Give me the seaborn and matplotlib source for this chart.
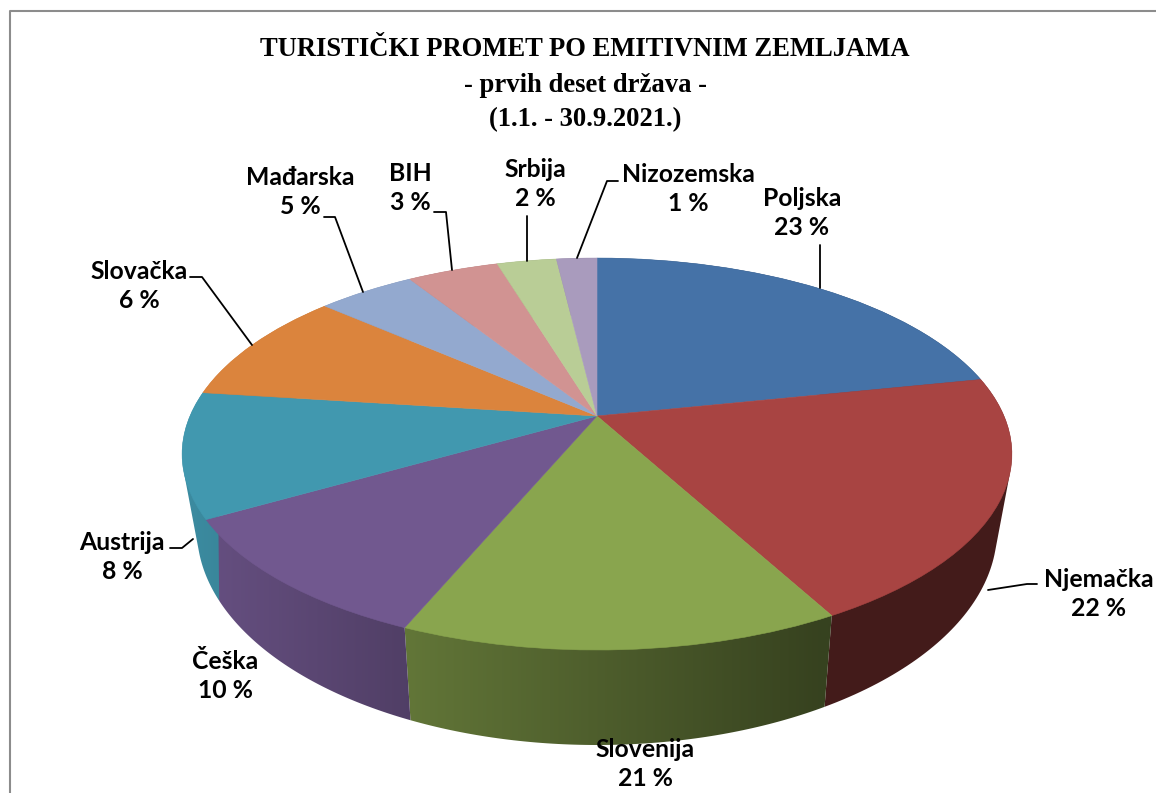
#!/usr/bin/env python3
import numpy as np
import matplotlib
matplotlib.use('Agg')
import matplotlib.pyplot as plt
import seaborn as sns
from matplotlib.patches import Polygon
from matplotlib.transforms import Transform

sns.set_theme(style="white")
plt.rcParams['font.family'] = ['Lato', 'DejaVu Sans']

# podaci procitani sa slike
zemlje = ['Poljska', 'Njemačka', 'Slovenija', 'Češka', 'Austrija',
          'Slovačka', 'Mađarska', 'BIH', 'Srbija', 'Nizozemska']
postotci = [23, 22, 21, 10, 8, 6, 5, 3, 2, 1]
# udjeli kako su stvarno nacrtani (ne poklapaju se s natpisima)
udjeli = [21.8, 20.3, 14.3, 10.4, 10.3, 9.4, 4.6, 4.3, 2.8, 1.9]
boje = ['#4572A7', '#A84442', '#89A54E', '#71588F', '#4198AF',
        '#DB843D', '#93A9CF', '#D19392', '#B9CD96', '#A99BBD']
naslov = ['TURISTIČKI PROMET PO EMITIVNIM ZEMLJAMA', '- prvih deset država -', '(1.1. - 30.9.2021.)']

# polozaj natpisa u pikselima
natpisi_xy = [(802, 213), (1099, 594), (645, 764), (225, 676), (122, 557),
              (139, 286), (300, 192), (410, 188), (535, 184), (688, 189)]
vodilice = [
    [(820, 245), (820, 288)],
    [(1037, 584), (1027, 584), (988, 590)],
    [],
    [],
    [(170, 548), (182, 548), (193, 539)],
    [(190, 277), (202, 277), (252, 345)],
    [(324, 217), (335, 217), (363, 292)],
    [(434, 212), (446, 212), (452, 270)],
    [(527, 216), (527, 261)],
    [(618, 181), (607, 181), (577, 258)],
]


class Perspektiva(Transform):
    # jedinicni krug -> pikseli, s perspektivom
    input_dims = 2
    output_dims = 2
    is_separable = False
    has_inverse = False

    def __init__(self, cy, rx, ry, k, cx=597):
        super().__init__()
        self.cy, self.rx, self.ry, self.k, self.cx = cy, rx, ry, k, cx

    def transform_non_affine(self, xy):
        xy = np.asarray(xy, dtype=float)
        w = 1 + self.k * xy[:, 1]
        return np.column_stack([self.cx + self.rx * xy[:, 0] / w,
                                self.cy - self.ry * xy[:, 1] / w])


def ljuska(tocke):
    # konveksna ljuska, da zid na bokovima nema udubljenje
    tocke = sorted(map(tuple, tocke))

    def pola(niz):
        out = []
        for p in niz:
            while len(out) > 1 and ((out[-1][0] - out[-2][0]) * (p[1] - out[-2][1])
                                    - (out[-1][1] - out[-2][1]) * (p[0] - out[-2][0])) <= 0:
                out.pop()
            out.append(p)
        return out[:-1]

    return np.array(pola(tocke) + pola(tocke[::-1]))


gornja = Perspektiva(416, 407, 188.6, 0.194)
donja = Perspektiva(487, 392, 206.4, 0.2)

paleta = sns.color_palette(boje)

fig = plt.figure(figsize=(11.56, 7.93), dpi=100, facecolor='white')
ax = fig.add_axes([0, 0, 1, 1])

# gornja ploha
wedges, _ = ax.pie(udjeli, colors=paleta, startangle=90, counterclock=False,
                   wedgeprops={'linewidth': 0.4, 'zorder': 3})
for w, c in zip(wedges, paleta):
    w.set_edgecolor(c)
    w.set_transform(gornja + ax.transData)

# bocni zid: gradijent po x, odrezan na oblik zida
granice = np.cumsum([0] + udjeli) / np.sum(udjeli) * 2 * np.pi
stupci = np.arange(175, 1025)
sjena = np.interp(stupci, [183, 400, 820, 1012], [0.92, 0.72, 0.40, 0.40])
for i in range(len(udjeli)):
    t = np.linspace(granice[i], granice[i + 1], 80)
    krug = np.column_stack([np.sin(t), np.cos(t)])
    rub = ljuska(np.vstack([gornja.transform_non_affine(krug), donja.transform_non_affine(krug)]))
    oblik = Polygon(rub, closed=True, transform=ax.transData, facecolor='none', edgecolor='none')
    ax.add_patch(oblik)
    slika = np.outer(sjena, paleta[i]).reshape(1, len(stupci), 3)
    im = ax.imshow(slika, extent=(stupci[0], stupci[-1], 760, 250), aspect='auto',
                   interpolation='bilinear', zorder=2 + i / 100)
    im.set_clip_path(oblik)

ax.set_aspect('auto')
ax.set_xlim(0, 1156)
ax.set_ylim(793, 0)
ax.axis('off')

# natpisi i vodilice
for ime, p, xy, vod in zip(zemlje, postotci, natpisi_xy, vodilice):
    ax.text(xy[0], xy[1], f'{ime}\n{p} %', ha='center', va='center', fontsize=17.8,
            fontweight='bold', color='black', linespacing=1.35, zorder=5)
    if vod:
        ax.plot([q[0] for q in vod], [q[1] for q in vod], color='black', lw=1.3, zorder=4)

# naslov
for red, y in zip(naslov, [49, 85, 120]):
    ax.text(585, y, red, ha='center', va='center', fontsize=19.2, fontweight='bold',
            family=['Liberation Serif', 'DejaVu Serif'], color='black', zorder=5)

# okvir
ax.plot([9.5, 9.5, 1156], [793, 10.5, 10.5], color='#8c8c8c', lw=1.5, zorder=1)

fig.savefig('out.png', dpi=100)
